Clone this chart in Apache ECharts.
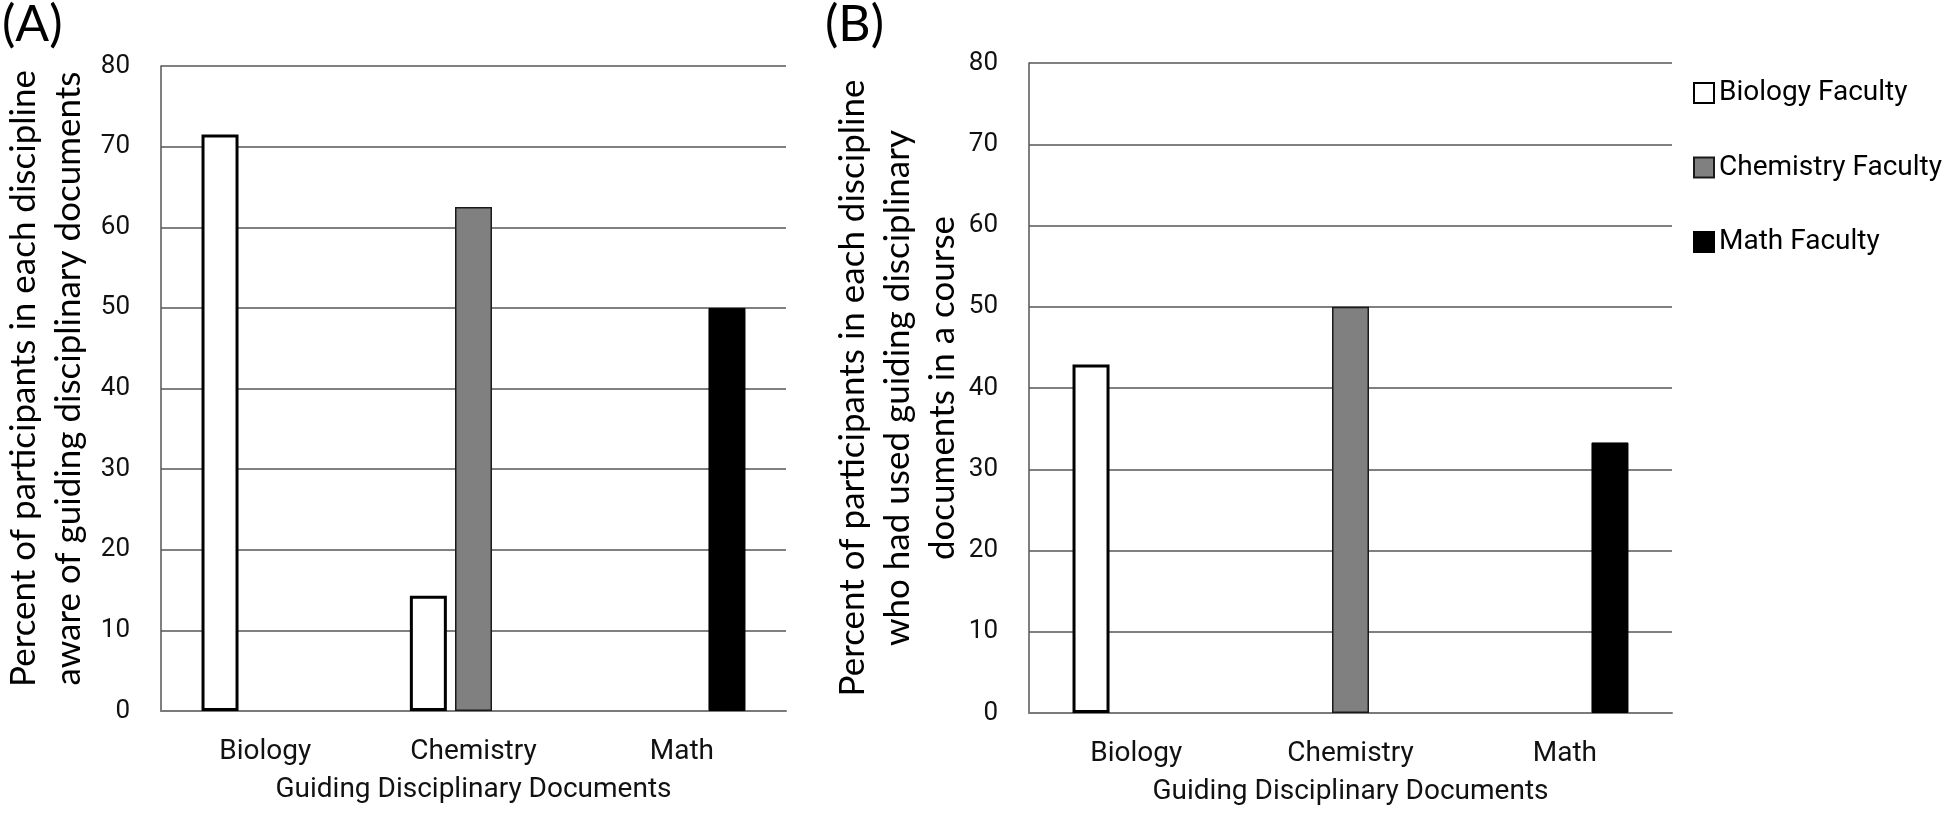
<!DOCTYPE html>
<html>
<head>
<meta charset="utf-8">
<script src="https://cdn.jsdelivr.net/npm/echarts@6/dist/echarts.min.js"></script>
<style>
html,body{margin:0;padding:0;background:#fff;}
#chart{width:1946px;height:817px;}
</style>
</head>
<body>
<div id="chart"></div>
<script>
// ---- data ----
const categories = ['Biology', 'Chemistry', 'Math'];
const seriesNames = ['Biology Faculty', 'Chemistry Faculty', 'Math Faculty'];
// (A) aware of guiding disciplinary documents
const awareBiologyFaculty = [71.5, 14.3, 0];
const awareChemistryFaculty = [0, 62.5, 0];
const awareMathFaculty = [0, 0, 50];
// (B) had used guiding disciplinary documents in a course
const usedBiologyFaculty = [42.9, 0, 0];
const usedChemistryFaculty = [0, 50, 0];
const usedMathFaculty = [0, 0, 33.3];
const yMin = 0, yMax = 80, yStep = 10;
const panelLabels = ['(A)', '(B)'];
const xAxisTitle = 'Guiding Disciplinary Documents';
const yTitleA = 'Percent of participants in each discipline\naware of guiding disciplinary documents';
const yTitleB = 'Percent of participants in each discipline\nwho had used guiding disciplinary\ndocuments in a course';

// ---- styles ----
const styles = [
  {color: '#ffffff', borderColor: '#000000', borderWidth: 3},
  {color: '#808080', borderColor: '#1a1a1a', borderWidth: 1.5},
  {color: '#000000', borderColor: '#000000', borderWidth: 1}
];
const labelFont = 'Roboto, "Noto Sans", sans-serif';
const titleFont = 'Lato, "Open Sans", sans-serif';

function hideZero(arr) { return arr.map(v => v === 0 ? null : v); }

function xAxisCfg(gridIndex) {
  return {
    type: 'category', gridIndex: gridIndex, data: categories,
    axisLine: {show: true, lineStyle: {color: '#7a7a7a', width: 2}},
    axisTick: {show: false},
    axisLabel: {color: '#111', fontFamily: labelFont, fontSize: 28, margin: 27},
    name: xAxisTitle, nameLocation: 'middle', nameGap: 65,
    nameTextStyle: {color: '#111', fontFamily: labelFont, fontSize: 28}
  };
}
function yAxisCfg(gridIndex, title, gap, pad) {
  return {
    type: 'value', gridIndex: gridIndex, min: yMin, max: yMax, interval: yStep,
    axisLine: {show: true, lineStyle: {color: '#555', width: 1.5}},
    axisTick: {show: false},
    axisLabel: {color: '#111', fontFamily: labelFont, fontSize: 26, margin: 31},
    splitLine: {show: true, lineStyle: {color: '#808080', width: 2}},
    name: title, nameLocation: 'middle', nameRotate: 90, nameGap: gap,
    nameTextStyle: {color: '#000', fontFamily: titleFont, fontSize: 35, lineHeight: 45, padding: pad}
  };
}
function barSeries(name, data, idx, axisIndex) {
  return {
    type: 'bar', name: name, data: hideZero(data),
    xAxisIndex: axisIndex, yAxisIndex: axisIndex,
    barWidth: 37, barGap: '22%',
    itemStyle: styles[idx],
    emphasis: {disabled: true}
  };
}

const chart = echarts.init(document.getElementById('chart'), null, {renderer: 'canvas'});
chart.setOption({
  backgroundColor: '#ffffff',
  animation: false,
  grid: [
    {left: 161, right: 1946 - 786, top: 66, bottom: 817 - 711, outerBoundsMode: 'none'},
    {left: 1029, right: 1946 - 1672, top: 63, bottom: 817 - 713, outerBoundsMode: 'none'}
  ],
  xAxis: [xAxisCfg(0), xAxisCfg(1)],
  yAxis: [yAxisCfg(0, yTitleA, 70, [0, 0, 0, 20]), yAxisCfg(1, yTitleB, 62, 0)],
  legend: {
    data: seriesNames,
    orient: 'vertical', left: 1693, top: 79, padding: 0,
    itemWidth: 20, itemHeight: 20, itemGap: 46.5,
    icon: 'rect',
    textStyle: {color: '#000', fontFamily: labelFont, fontSize: 28, lineHeight: 28}
  },
  graphic: [
    {type: 'text', left: 2, top: 0, style: {text: panelLabels[0], font: '50px ' + titleFont, fill: '#000'}},
    {type: 'text', left: 825, top: 0, style: {text: panelLabels[1], font: '50px ' + titleFont, fill: '#000'}}
  ],
  series: [
    barSeries(seriesNames[0], awareBiologyFaculty, 0, 0),
    barSeries(seriesNames[1], awareChemistryFaculty, 1, 0),
    barSeries(seriesNames[2], awareMathFaculty, 2, 0),
    barSeries(seriesNames[0], usedBiologyFaculty, 0, 1),
    barSeries(seriesNames[1], usedChemistryFaculty, 1, 1),
    barSeries(seriesNames[2], usedMathFaculty, 2, 1)
  ]
});
</script>
</body>
</html>
